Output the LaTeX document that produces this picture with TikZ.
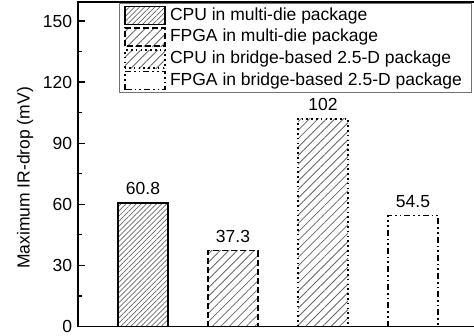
\documentclass[tikz,border=0pt]{standalone}
\usepackage{fontspec}
\setmainfont{Liberation Sans}
\usetikzlibrary{patterns.meta}
\begin{document}
\begin{tikzpicture}[x=1pt,y=-1pt,
  every node/.style={inner sep=0pt, outer sep=0pt},
  bar/.style={minimum width=50pt, anchor=south},
  hatchA/.style={pattern={Lines[angle=45,distance=3.6pt,line width=0.7pt]}, pattern color=black!60},
  hatchB/.style={pattern={Lines[angle=45,distance=6pt,line width=0.8pt]}, pattern color=black!60},
  sA/.style={draw=black, line width=1.6pt, solid},
  sB/.style={draw=black, line width=1.6pt, dash pattern=on 6pt off 3pt},
  sC/.style={draw=black, line width=1.6pt, dash pattern=on 1.6pt off 3.2pt},
  sD/.style={draw=black, line width=1.6pt, dash pattern=on 6pt off 3pt on 1.6pt off 3pt on 1.6pt off 3pt},
  val/.style={font=\fontsize{17.5}{17.5}\selectfont, anchor=base},
  tick/.style={font=\fontsize{17.5}{17.5}\selectfont, anchor=east},
  legtext/.style={font=\fontsize{17.5}{17.5}\selectfont, anchor=west},
  patch/.style={minimum width=40pt, minimum height=18pt},
  axis/.style={line width=1.5pt}
]
\useasboundingbox (0,0) rectangle (474,335);
% bars
\node[bar, hatchA, minimum height=123.8pt] (b1) at (143,326.5) {};
\node[bar, hatchB, minimum height=76.0pt] (b2) at (233,326.5) {};
\node[bar, hatchB, minimum height=207.7pt] (b3) at (323,326.5) {};
\node[bar, minimum height=111.0pt] (b4) at (413,326.5) {};
\draw[sA] (b1.south west) rectangle (b1.north east);
\draw[sB] (b2.south west) rectangle (b2.north east);
\draw[sC] (b3.south west) rectangle (b3.north east);
\draw[sD] (b4.south west) rectangle (b4.north east);
\node[val] (v1) at ([yshift=8pt]b1.north) {60.8};
\node[val] (v2) at ([yshift=8pt]b2.north) {37.3};
\node[val] (v3) at ([yshift=8pt]b3.north) {102};
\node[val] (v4) at ([yshift=8pt]b4.north) {54.5};
% axes
\coordinate (o) at (78,326.5);
\coordinate (tl) at (78,2);
\coordinate (br) at (474,326.5);
\coordinate (tr) at (474,2);
\draw[axis] (br) -- (o) -- (tl) -- (tr);
\foreach \v in {0,30,60,90,120,150}{
  \draw[line width=1.2pt] (78,{326.5-2.0367*\v}) -- ++(7,0);
  \node[tick] at (72,{326.5-2.0367*\v}) {\v};
}
\foreach \v in {15,45,75,105,135}{
  \draw[line width=1.2pt] (78,{326.5-2.0367*\v}) -- ++(4,0);
}
\node[font=\fontsize{17.5}{17.5}\selectfont, rotate=90] (ylab) at (25,178) {Maximum IR-drop (mV)};
% legend
\node[draw=black!55, line width=0.6pt, fill=white, minimum width=352pt, minimum height=89pt, anchor=north west] (leg) at (119,3) {};
\node[patch, hatchA] (p1) at (145,15.5) {};
\node[patch, hatchB] (p2) at (145,37) {};
\node[patch, hatchB] (p3) at (145,59) {};
\node[patch] (p4) at (145,80.5) {};
\draw[sA] (p1.south west) rectangle (p1.north east);
\draw[sB] (p2.south west) rectangle (p2.north east);
\draw[sC] (p3.south west) rectangle (p3.north east);
\draw[sD] (p4.south west) rectangle (p4.north east);
\node[legtext] (t1) at (170,15.5) {CPU in multi-die package};
\node[legtext] (t2) at (170,37) {FPGA in multi-die package};
\node[legtext] (t3) at (170,59) {CPU in bridge-based 2.5-D package};
\node[legtext] (t4) at (170,80.5) {FPGA in bridge-based 2.5-D package};
\end{tikzpicture}
\end{document}
